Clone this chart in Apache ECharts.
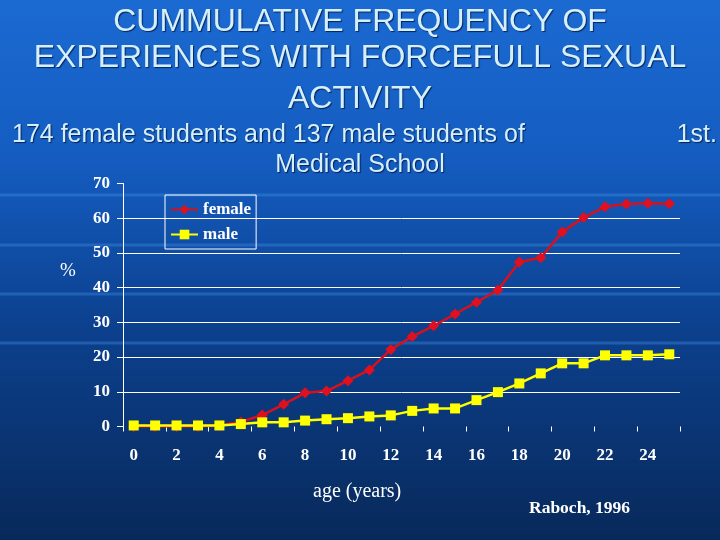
<!DOCTYPE html>
<html>
<head>
<meta charset="utf-8">
<script src="https://cdn.jsdelivr.net/npm/echarts@6/dist/echarts.min.js"></script>
<style>
  html, body { margin: 0; padding: 0; }
  #chart { width: 720px; height: 540px; }
</style>
</head>
<body>
<div id="chart"></div>
<script>
// ages 0..25 (one point per year)
const ages = ['0', '1', '2', '3', '4', '5', '6', '7', '8', '9', '10', '11', '12',
  '13', '14', '15', '16', '17', '18', '19', '20', '21', '22', '23', '24', '25'];
const female = [0, 0, 0, 0, 0.3, 1.3, 3.3, 6.4, 9.7, 10.2, 13.2, 16.3, 22.2,
  25.9, 29.0, 32.4, 35.8, 39.3, 47.4, 48.6, 56.0, 60.2, 63.3, 64.1, 64.3, 64.2];
const male = [0.3, 0.3, 0.3, 0.3, 0.3, 0.7, 1.2, 1.2, 1.7, 2.1, 2.4, 2.9, 3.2,
  4.5, 5.2, 5.2, 7.6, 9.9, 12.4, 15.3, 18.2, 18.2, 20.5, 20.5, 20.5, 20.8];

const titleLines = ['CUMMULATIVE FREQUENCY OF', 'EXPERIENCES WITH FORCEFULL SEXUAL', 'ACTIVITY'];

const chart = echarts.init(document.getElementById('chart'));

const titleStyle = {
  fill: '#d4f0ff',
  font: '32px "Liberation Sans", Arial, sans-serif',
  textAlign: 'center',
  textShadowColor: 'rgba(0,20,60,0.8)',
  textShadowOffsetX: 1,
  textShadowOffsetY: 1,
  textShadowBlur: 1
};
const subStyle = Object.assign({}, titleStyle, {
  font: '25px "Liberation Sans", Arial, sans-serif'
});
const serif = '"Liberation Serif", "Times New Roman", serif';

// template decoration: faint light-blue horizontal bands
const bands = [195, 245, 294, 343].map(y => ({
  type: 'line',
  silent: true,
  z: -10,
  shape: { x1: 0, y1: y, x2: 720, y2: y },
  style: { stroke: 'rgba(70,150,235,0.35)', lineWidth: 3 }
}));

const option = {
  animation: false,
  backgroundColor: new echarts.graphic.LinearGradient(0, 0, 0, 1, [
    { offset: 0, color: '#1b6ad2' },
    { offset: 0.3, color: '#145cc0' },
    { offset: 0.6, color: '#0c418f' },
    { offset: 1, color: '#08295a' }
  ]),
  graphic: bands.concat([
    { type: 'text', left: 'center', top: 6, style: Object.assign({}, titleStyle, { text: titleLines[0] }) },
    { type: 'text', left: 'center', top: 42, style: Object.assign({}, titleStyle, { text: titleLines[1] }) },
    { type: 'text', left: 'center', top: 83, style: Object.assign({}, titleStyle, { text: titleLines[2] }) },
    { type: 'text', left: 12, top: 123, style: Object.assign({}, subStyle, { text: '174 female students and 137 male students of', textAlign: 'left' }) },
    { type: 'text', right: 3, top: 123, style: Object.assign({}, subStyle, { text: '1st.', textAlign: 'left' }) },
    { type: 'text', left: 'center', top: 153, style: Object.assign({}, subStyle, { text: 'Medical School' }) },
    { type: 'text', left: 60, top: 262, style: { text: '%', fill: '#fff', font: '19px ' + serif } },
    { type: 'text', left: 313, top: 482, style: { text: 'age (years)', fill: '#fff', font: '20px ' + serif } },
    { type: 'text', left: 529, top: 499, style: { text: 'Raboch, 1996', fill: '#fff', font: 'bold 17.5px ' + serif } }
  ]),
  legend: {
    orient: 'vertical',
    left: 165,
    top: 195,
    padding: [6, 5, 6, 5],
    itemGap: 8,
    itemWidth: 27,
    itemHeight: 12,
    borderColor: '#ffffff',
    borderWidth: 1,
    textStyle: { color: '#fff', fontFamily: serif, fontWeight: 'bold', fontSize: 17 },
    data: ['female', 'male']
  },
  grid: { left: 123, right: 40, top: 183.5, bottom: 113.5 },
  xAxis: {
    type: 'category',
    data: ages,
    boundaryGap: true,
    axisLine: { show: false },
    axisTick: { show: true, length: 5, lineStyle: { color: '#fff' } },
    axisLabel: {
      interval: 1,
      margin: 21,
      color: '#fff',
      fontFamily: serif,
      fontWeight: 'bold',
      fontSize: 17
    }
  },
  yAxis: {
    type: 'value',
    min: 0,
    max: 70,
    interval: 10,
    axisLine: { show: true, lineStyle: { color: '#fff', width: 1 } },
    axisTick: { show: true, length: 6, lineStyle: { color: '#fff' } },
    axisLabel: {
      margin: 13,
      color: '#fff',
      fontFamily: serif,
      fontWeight: 'bold',
      fontSize: 17
    },
    splitLine: {
      show: true,
      lineStyle: {
        color: ['rgba(0,0,0,0)', '#fff', '#fff', '#fff', '#fff', '#fff', '#fff', 'rgba(0,0,0,0)'],
        width: 1
      }
    }
  },
  series: [
    {
      name: 'female',
      type: 'line',
      data: female,
      symbol: 'diamond',
      symbolSize: 11,
      itemStyle: { color: '#e0101e' },
      lineStyle: { color: '#d8101c', width: 2.5 },
      z: 2
    },
    {
      name: 'male',
      type: 'line',
      data: male,
      symbol: 'rect',
      symbolSize: 10,
      itemStyle: { color: '#ffff00' },
      lineStyle: { color: '#ffff00', width: 2.5 },
      z: 3
    }
  ]
};

chart.setOption(option);
</script>
</body>
</html>
